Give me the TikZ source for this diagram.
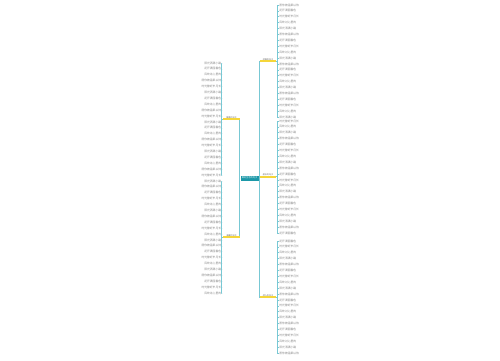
\documentclass[tikz,border=0pt]{standalone}
\usepackage{fontspec}
\newfontfamily\cjk{Noto Sans CJK SC}
\usetikzlibrary{positioning}

\definecolor{rootteal}{RGB}{28,152,168}
\definecolor{connteal}{RGB}{120,200,212}
\definecolor{markyellow}{RGB}{245,214,58}

\tikzset{
  conn/.style={draw=connteal, line width=0.7pt},
  rootbox/.style={fill=rootteal, text=white, font=\cjk\fontsize{2.2}{2.4}\selectfont,
    minimum width=18pt, minimum height=5pt, inner sep=0.3pt},
  branch/.style={text=black!60, font=\cjk\fontsize{2.1}{2.4}\selectfont,
    minimum width=16pt, minimum height=3pt, inner sep=0.3pt},
  leaf/.style={text=black!48, font=\cjk\fontsize{2.8}{3.1}\selectfont, inner sep=0.2pt},
  yellowline/.style={draw=markyellow, line width=1.8pt}
}

\newcommand\leaftext[1]{%
  \pgfmathtruncatemacro\k{mod(#1*7,5)}%
  \ifcase\k 时光静好岁月长\or 风吹过心里的\or 阳光洒满小路\or 愿你被温柔以待\or 花开满园春色\fi}

\begin{document}
\begin{tikzpicture}[x=1pt, y=-1pt]
  \useasboundingbox (0,0) rectangle (500,360);
  % center
  \node[rootbox] (root) at (249.5,178) {美好生活的句子};
  % branches
  \node[branch] (L1) at (231.5,117.5) {唯美的句子};
  \node[branch] (L2) at (231.5,235.5) {温暖的句子};
  \node[branch] (R1) at (268,59.5) {经典的句子};
  \node[branch] (R2) at (268,175) {励志的句子};
  \node[branch] (R3) at (268,295.5) {感人的句子};
  \draw[conn] (root.west) -- ++(-1,0) |- (L1.south east);
  \draw[conn] (root.west) -- ++(-1,0) |- (L2.south east);
  \draw[conn] (root.east) -- ++(0.5,0) |- (R1.south west);
  \draw[conn] (root.east) -- ++(0.5,0) |- (R2.south west);
  \draw[conn] (root.east) -- ++(0.5,0) |- (R3.south west);
  % leaves
  \foreach \i in {1,...,20} {
    \node[leaf, anchor=east] (La\i) at (221.5,{119+(\i-10.5)*5.9}) {\leaftext{\i}};
    \node[leaf, anchor=east] (Lb\i) at (221.5,{237+(\i-10.5)*5.9}) {\leaftext{\i+3}};
    \node[leaf, anchor=west] (Ra\i) at (279,{61+(\i-10.5)*5.9}) {\leaftext{\i+1}};
    \node[leaf, anchor=west] (Rb\i) at (279,{177+(\i-10.5)*5.9}) {\leaftext{\i+2}};
    \node[leaf, anchor=west] (Rc\i) at (279,{297+(\i-10.5)*5.9}) {\leaftext{\i+4}};
    \draw[conn] (L1.south west) -- ++(-1.5,0) |- (La\i.east);
    \draw[conn] (L2.south west) -- ++(-1.5,0) |- (Lb\i.east);
    \draw[conn] (R1.south east) -- ++(1,0) |- (Ra\i.west);
    \draw[conn] (R2.south east) -- ++(1,0) |- (Rb\i.west);
    \draw[conn] (R3.south east) -- ++(1,0) |- (Rc\i.west);
  }
  % yellow marks under the branches
  \draw[yellowline] (L1.south west) -- (L1.south east);
  \draw[yellowline] (L2.south west) -- (L2.south east);
  \draw[yellowline] (R1.south west) -- (R1.south east);
  \draw[yellowline] (R2.south west) -- (R2.south east);
  \draw[yellowline] (R3.south west) -- (R3.south east);
\end{tikzpicture}
\end{document}
